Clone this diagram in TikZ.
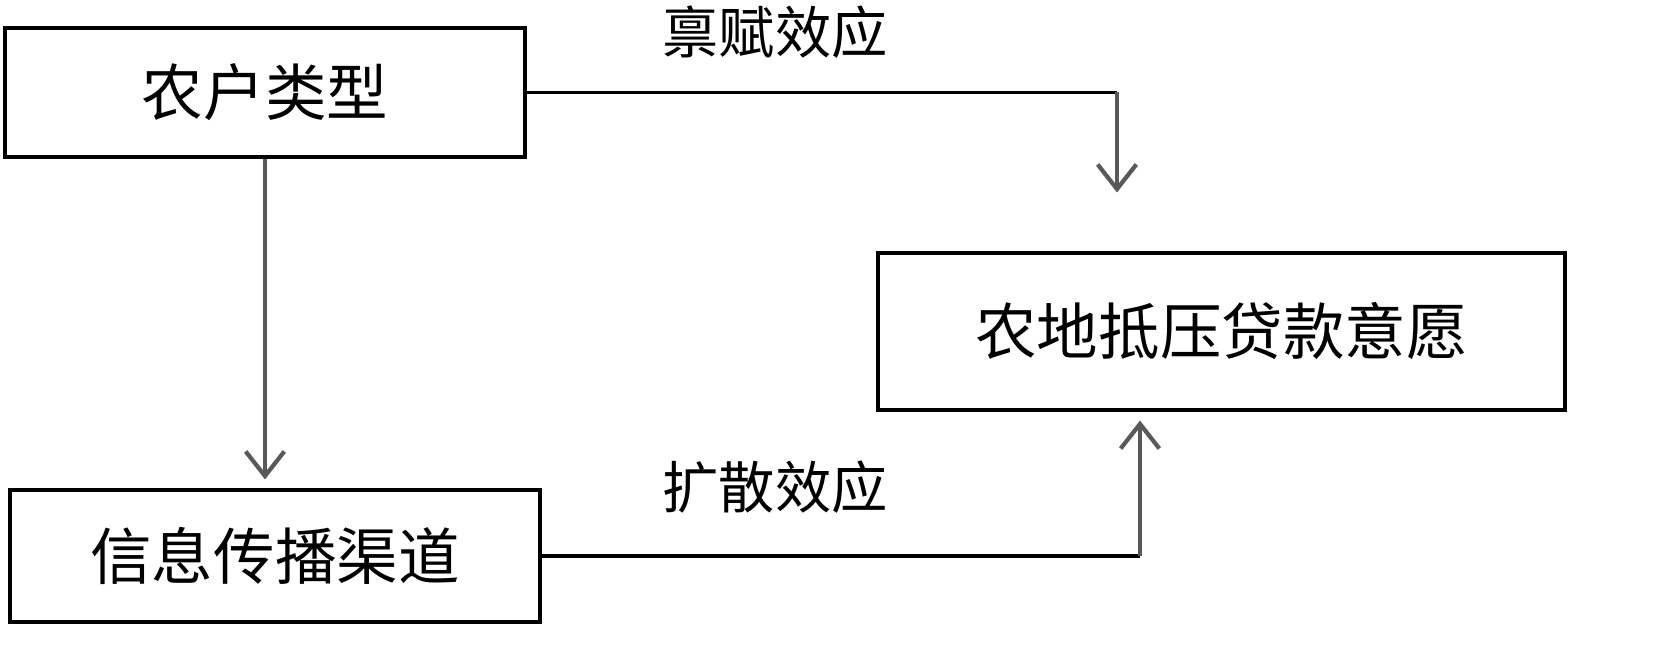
\documentclass[tikz,border=0pt]{standalone}
\usepackage{fontspec}
\setmainfont{Noto Sans CJK SC}
\usetikzlibrary{arrows.meta,positioning}
\begin{document}
\begin{tikzpicture}[
    box/.style={rectangle, draw, line width=2pt, font=\fontsize{35}{40}\selectfont},
    lbl/.style={font=\fontsize{32}{36}\selectfont},
    arrow/.style={-{Straight Barb[length=14pt,width=22pt]}, line width=2.4pt, gray!70!black}]
    \useasboundingbox (0,0) rectangle (33.08,13.2);

    \node[box, minimum width=10.4cm, minimum height=2.58cm] (type) at (5.3,11.35) {农户类型};
    \node[box, minimum width=10.6cm, minimum height=2.64cm] (channel) at (5.5,2.08) {信息传播渠道};
    \node[box, minimum width=13.74cm, minimum height=3.14cm] (will) at (24.43,6.57) {农地抵压贷款意愿};
    \node[lbl] (endow) at (15.5,12.55) {禀赋效应};
    \node[lbl] (diff) at (15.5,3.45) {扩散效应};

    \coordinate (c1) at (22.34,11.35);
    \coordinate (c2) at (22.8,2.08);

    \draw[line width=2pt] (type.east) -- (c1);
    \draw[arrow] (c1) -- ++(0,-2);
    \draw[arrow] (type.south) -- ([yshift=5pt]type.south |- channel.north);
    \draw[line width=2pt] (channel.east) -- (c2);
    \draw[arrow] (c2) -- ([yshift=-5pt]c2 |- will.south);
\end{tikzpicture}
\end{document}
